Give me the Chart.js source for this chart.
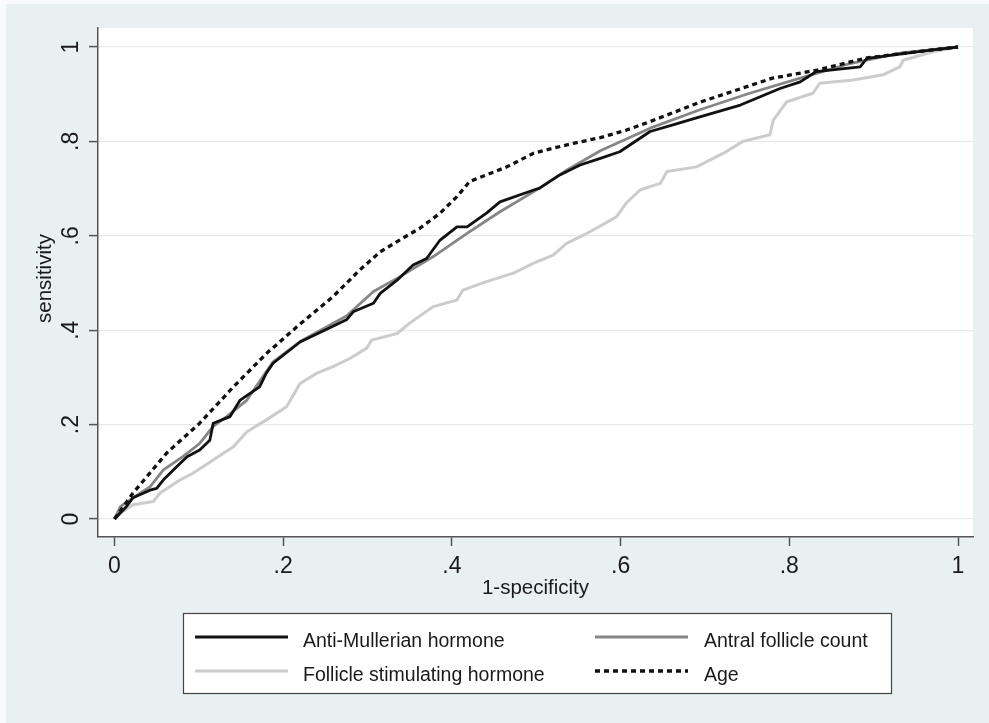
<!DOCTYPE html>
<html><head><meta charset="utf-8">
<script src="https://cdn.jsdelivr.net/npm/chart.js@4.4.1/dist/chart.umd.min.js"></script>
<style>html,body{margin:0;padding:0;background:#e8f0f2;}#wrap{width:989px;height:723px;position:relative;}</style>
</head><body><div id="wrap"><canvas id="c"></canvas></div>
<script>
const seriesNames = ['Anti-Mullerian hormone', 'Antral follicle count', 'Follicle stimulating hormone', 'Age'];
const amhX = [0,.014,.022,.042,.05,.058,.074,.086,.101,.113,.117,.137,.149,.172,.18,.188,.22,.275,.283,.307,.315,.335,.354,.37,.386,.406,.418,.441,.457,.497,.504,.528,.552,.576,.599,.635,.662,.694,.742,.789,.813,.832,.884,.892,.97,1];
const amhY = [0,.026,.045,.061,.065,.083,.111,.132,.146,.167,.203,.217,.252,.28,.309,.33,.375,.422,.439,.457,.478,.506,.538,.552,.591,.619,.619,.648,.672,.697,.701,.729,.75,.764,.778,.821,.835,.852,.877,.912,.926,.948,.958,.976,.994,1];
const afcX = [0,.007,.022,.042,.058,.081,.101,.117,.133,.157,.188,.22,.275,.307,.338,.378,.418,.457,.504,.536,.576,.635,.694,.753,.813,.872,.931,1];
const afcY = [0,.026,.045,.068,.104,.132,.16,.196,.217,.252,.333,.376,.43,.482,.513,.556,.605,.651,.701,.739,.78,.828,.867,.902,.934,.965,.987,1];
const fshX = [0,.007,.022,.046,.054,.078,.093,.117,.141,.157,.18,.204,.22,.24,.259,.279,.299,.305,.335,.35,.378,.406,.413,.441,.473,.497,.52,.536,.56,.595,.607,.623,.647,.655,.69,.722,.745,.777,.781,.797,.828,.836,.876,.911,.931,.935,.97,1];
const fshY = [0,.013,.03,.037,.055,.083,.097,.125,.153,.185,.21,.238,.287,.309,.323,.34,.362,.379,.393,.415,.45,.464,.485,.503,.521,.542,.559,.584,.605,.64,.67,.697,.711,.736,.746,.775,.8,.814,.845,.884,.902,.923,.93,.941,.958,.972,.99,1];
const ageX = [0,.022,.062,.101,.141,.181,.22,.259,.291,.315,.338,.362,.386,.406,.421,.441,.465,.497,.512,.544,.576,.607,.635,.694,.78,.833,.892,.97,1];
const ageY = [0,.055,.14,.203,.28,.352,.413,.471,.528,.566,.591,.616,.648,.683,.715,.729,.746,.775,.782,.796,.808,.824,.842,.883,.934,.951,.977,.994,1];
const tickValues = [0, 0.2, 0.4, 0.6, 0.8, 1];
const tickLabels = ['0', '.2', '.4', '.6', '.8', '1'];
const xTitle = '1-specificity';
const yTitle = 'sensitivity';

const FONT = '"Liberation Sans", Arial, Helvetica, sans-serif';
const pts = (xs, ys) => xs.map((x, i) => ({x: x, y: ys[i]}));

const styles = [
  {color: '#111111', width: 2.8, dash: [], order: 1},
  {color: '#868686', width: 2.8, dash: [], order: 2},
  {color: '#cccccc', width: 3, dash: [], order: 3},
  {color: '#111111', width: 3.3, dash: [5, 4], order: 0}
];
const dataPairs = [[amhX, amhY], [afcX, afcY], [fshX, fshY], [ageX, ageY]];

const datasets = seriesNames.map((name, i) => ({
  label: name,
  data: pts(dataPairs[i][0], dataPairs[i][1]),
  showLine: true,
  borderColor: styles[i].color,
  borderWidth: styles[i].width,
  borderDash: styles[i].dash,
  pointRadius: 0,
  tension: 0,
  fill: false,
  order: styles[i].order,
  borderJoinStyle: 'round'
}));

const decor = {
  id: 'decor',
  beforeDraw(chart) {
    const ctx = chart.ctx, a = chart.chartArea;
    ctx.save();
    ctx.fillStyle = '#e8f0f2';
    ctx.fillRect(0, 0, chart.width, chart.height);
    ctx.fillStyle = '#f8fbfb';
    ctx.fillRect(0, 0, chart.width, 4);
    ctx.fillRect(0, 0, 6, chart.height);
    ctx.fillStyle = '#ffffff';
    ctx.fillRect(a.left, a.top, a.right - a.left, a.bottom - a.top);
    ctx.restore();
  },
  afterDraw(chart) {
    const ctx = chart.ctx, ys = chart.scales.y, a = chart.chartArea;
    ctx.save();
    ctx.fillStyle = '#1a1a1a';
    // y tick labels, rotated
    ctx.font = '23px ' + FONT;
    ctx.textAlign = 'center';
    ctx.textBaseline = 'alphabetic';
    tickValues.forEach((v, i) => {
      const py = ys.getPixelForValue(v);
      ctx.save();
      ctx.translate(78, py);
      ctx.rotate(-Math.PI / 2);
      ctx.fillText(tickLabels[i], 0, 0);
      ctx.restore();
    });
    // axis titles
    ctx.font = '20.5px ' + FONT;
    ctx.fillText(xTitle, (a.left + a.right) / 2, 594);
    ctx.save();
    ctx.translate(51, (a.top + a.bottom) / 2 - 4);
    ctx.rotate(-Math.PI / 2);
    ctx.fillText(yTitle, 0, 0);
    ctx.restore();
    // legend
    const bx = 183, by = 613, bw = 708, bh = 80;
    ctx.fillStyle = '#ffffff';
    ctx.fillRect(bx, by, bw, bh);
    ctx.strokeStyle = '#444444';
    ctx.lineWidth = 1.2;
    ctx.strokeRect(bx + 0.5, by + 0.5, bw, bh);
    const slots = [
      {l0: 195, l1: 288, tx: 303, ly: 637, ty: 647},
      {l0: 595, l1: 688, tx: 704, ly: 637, ty: 647},
      {l0: 195, l1: 288, tx: 303, ly: 671, ty: 681},
      {l0: 595, l1: 688, tx: 704, ly: 671, ty: 681}
    ];
    ctx.font = '19.5px ' + FONT;
    ctx.textAlign = 'left';
    chart.data.datasets.forEach((ds, i) => {
      const s = slots[i];
      ctx.beginPath();
      ctx.strokeStyle = ds.borderColor;
      ctx.lineWidth = ds.borderWidth;
      ctx.setLineDash(ds.borderDash || []);
      ctx.moveTo(s.l0, s.ly);
      ctx.lineTo(s.l1, s.ly);
      ctx.stroke();
      ctx.setLineDash([]);
      ctx.fillStyle = '#1a1a1a';
      ctx.fillText(ds.label, s.tx, s.ty);
    });
    ctx.restore();
  }
};

const setTicks = (scale) => { scale.ticks = tickValues.map(v => ({value: v})); };

new Chart(document.getElementById('c'), {
  type: 'scatter',
  data: {datasets: datasets},
  plugins: [decor],
  options: {
    responsive: true,
    maintainAspectRatio: false,
    animation: false,
    events: [],
    layout: {padding: {top: 28, right: 16, left: 0, bottom: 0}},
    plugins: {legend: {display: false}, tooltip: {enabled: false}},
    scales: {
      x: {
        type: 'linear',
        min: -0.01956, max: 1.01778,
        afterBuildTicks: setTicks,
        afterFit: (s) => { s.height = 186; },
        border: {color: '#555555', width: 1.5},
        grid: {drawOnChartArea: false, drawTicks: true, tickLength: 9, tickColor: '#555555', tickWidth: 1.5},
        ticks: {
          autoSkip: false, maxRotation: 0, minRotation: 0, padding: 7,
          color: '#1a1a1a', font: {family: FONT, size: 23},
          callback: (v, i) => tickLabels[i]
        }
      },
      y: {
        type: 'linear',
        min: -0.03814, max: 1.04025,
        afterBuildTicks: setTicks,
        afterFit: (s) => { s.width = 98; },
        border: {color: '#555555', width: 1.5},
        grid: {color: '#e9e9e9', lineWidth: 1.2, drawTicks: true, tickLength: 9, tickColor: '#555555', tickWidth: 1.5},
        ticks: {display: false}
      }
    }
  }
});
</script></body></html>
